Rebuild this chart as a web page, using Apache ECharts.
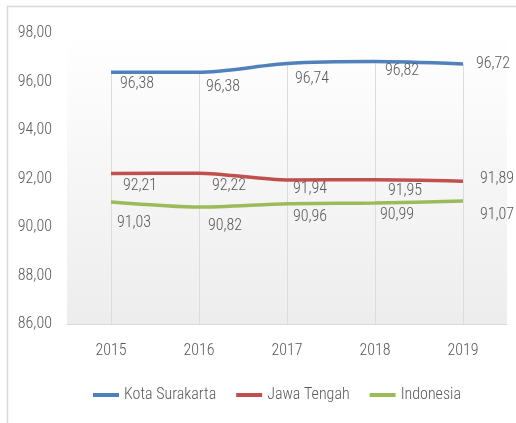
<!DOCTYPE html>
<html lang="id">
<head>
    <meta charset="UTF-8">
    <title>Kota Surakarta, Jawa Tengah, Indonesia</title>
    <script src="https://cdn.jsdelivr.net/npm/echarts@6/dist/echarts.min.js"></script>
    <style>
        html, body { margin: 0; padding: 0; background: #fff; }
        #chart { width: 516px; height: 423px; }
    </style>
</head>
<body>
<div id="chart"></div>
<script>
    // data
    let years = ['2015', '2016', '2017', '2018', '2019'];
    let kotaSurakarta = [96.38, 96.38, 96.74, 96.82, 96.72];
    let jawaTengah = [92.21, 92.22, 91.94, 91.95, 91.89];
    let indonesia = [91.03, 90.82, 90.96, 90.99, 91.07];
    let yMin = 86, yMax = 98, yStep = 2;

    // label placement
    let offBlue = [[26, 12], [24, 15], [25, 15], [27, 9], [30, 0]];
    let offRed = [[29, 13], [30, 13], [23, 9], [30, 11], [34, -2]];
    let offGreen = [[23, 21], [26, 19], [23, 13], [22, 12], [34, 14]];

    let font = "'Roboto Condensed', 'Open Sans', sans-serif";
    let weight = 300;
    let grey = '#595959';

    function fmt(v) {
        return v.toFixed(2).replace('.', ',');
    }

    function withLabels(values, offsets) {
        return values.map(function (v, i) {
            return {
                value: v,
                label: {position: offsets[i], align: 'center', verticalAlign: 'middle'}
            };
        });
    }

    function lineSeries(name, values, offsets, color) {
        return {
            name: name,
            type: 'line',
            smooth: 0.25,
            symbol: 'circle',
            symbolSize: 0,
            showSymbol: true,
            lineStyle: {color: color, width: 3.5},
            itemStyle: {color: color},
            label: {
                show: true,
                color: grey,
                fontFamily: font,
                fontWeight: weight,
                fontSize: 16,
                formatter: function (p) { return fmt(p.value); }
            },
            labelLayout: {hideOverlap: false},
            data: withLabels(values, offsets),
            z: 3
        };
    }

    let myChart = echarts.init(document.getElementById('chart'));

    let blue = lineSeries('Kota Surakarta', kotaSurakarta, offBlue, '#4f81bd');
    blue.markLine = {
        silent: true,
        symbol: 'none',
        label: {show: false},
        lineStyle: {color: '#dcdcdc', width: 1, type: 'solid'},
        data: kotaSurakarta.map(function (v, i) {
            return [{coord: [i, v]}, {coord: [i, yMin]}];
        }),
        z: 1
    };

    let option = {
        animation: false,
        graphic: [{
            type: 'rect',
            shape: {x: 7.5, y: 6.5, width: 530, height: 440},
            style: {fill: 'none', stroke: '#d9d9d9', lineWidth: 1.5},
            silent: true
        }],
        grid: {
            left: 67, right: 9, top: 33, bottom: 99,
            show: true,
            borderWidth: 0,
            backgroundColor: new echarts.graphic.LinearGradient(0, 0, 0, 1, [
                {offset: 0, color: '#ffffff'},
                {offset: 1, color: '#ededed'}
            ])
        },
        legend: {
            left: 88,
            top: 382,
            itemWidth: 26,
            itemHeight: 4,
            itemGap: 20,
            icon: 'rect',
            textStyle: {color: grey, fontFamily: font, fontWeight: weight, fontSize: 16},
            data: ['Kota Surakarta', 'Jawa Tengah', 'Indonesia']
        },
        xAxis: {
            type: 'category',
            data: years,
            boundaryGap: true,
            axisLine: {lineStyle: {color: '#d9d9d9', width: 1}},
            axisTick: {show: false},
            axisLabel: {color: grey, fontFamily: font, fontWeight: weight, fontSize: 16, margin: 19},
            splitLine: {show: false}
        },
        yAxis: {
            type: 'value',
            min: yMin,
            max: yMax,
            interval: yStep,
            axisLine: {show: false},
            axisTick: {show: false},
            splitLine: {show: false},
            axisLabel: {
                color: grey, fontFamily: font, fontWeight: weight, fontSize: 16, margin: 15,
                formatter: function (v) { return fmt(v); }
            }
        },
        series: [
            blue,
            lineSeries('Jawa Tengah', jawaTengah, offRed, '#c0504d'),
            lineSeries('Indonesia', indonesia, offGreen, '#9bbb59')
        ]
    };
    myChart.setOption(option);
</script>
</body>
</html>
